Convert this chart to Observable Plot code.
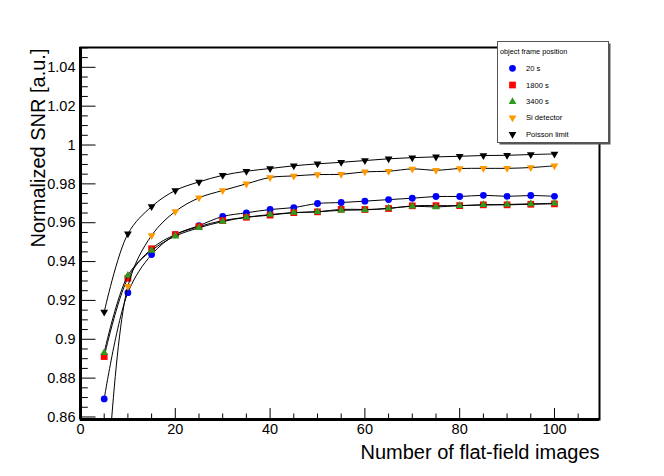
<!DOCTYPE html>
<html>
<head>
<meta charset="utf-8">
<script src="https://cdn.jsdelivr.net/npm/d3@7"></script>
<script src="https://cdn.jsdelivr.net/npm/@observablehq/plot@0.6"></script>
<style>
  html, body { margin: 0; padding: 0; background: #fff; }
  #chart { width: 664px; height: 476px; }
</style>
</head>
<body>
<div id="chart"></div>
<script>
// ---- data ----
const nImages = [5, 10, 15, 20, 25, 30, 35, 40, 45, 50, 55, 60, 65, 70, 75, 80, 85, 90, 95, 100];
const snr20s = [0.8693, 0.9240, 0.9436, 0.9538, 0.9585, 0.9632, 0.9651, 0.9668, 0.9678, 0.9699, 0.9704, 0.9711, 0.9719, 0.9726, 0.9735, 0.9735, 0.9741, 0.9736, 0.9740, 0.9736];
const snr1800s = [0.8911, 0.9314, 0.9466, 0.9539, 0.9580, 0.9611, 0.9628, 0.9639, 0.9652, 0.9656, 0.9669, 0.9668, 0.9673, 0.9687, 0.9688, 0.9688, 0.9692, 0.9692, 0.9695, 0.9697];
const snr3400s = [0.8931, 0.9328, 0.9457, 0.9531, 0.9574, 0.9606, 0.9628, 0.9642, 0.9652, 0.9656, 0.9664, 0.9666, 0.9674, 0.9685, 0.9681, 0.9688, 0.9692, 0.9694, 0.9697, 0.9700];
const snrSi = [0.800, 0.9273, 0.9534, 0.9658, 0.9728, 0.9766, 0.9800, 0.9833, 0.9841, 0.9848, 0.9849, 0.9862, 0.9865, 0.9877, 0.9870, 0.9879, 0.9880, 0.9880, 0.9884, 0.9893];
const snrPoisson = [0.9140, 0.9543, 0.9683, 0.9766, 0.9810, 0.9844, 0.9865, 0.9879, 0.9893, 0.9903, 0.9911, 0.9920, 0.9929, 0.9935, 0.9939, 0.9942, 0.9946, 0.9947, 0.9951, 0.9954];
const seriesNames = ["20 s", "1800 s", "3400 s", "Si detector", "Poisson limit"];
const seriesValues = [snr20s, snr1800s, snr3400s, snrSi, snrPoisson];
const seriesColors = ["#0000ff", "#ff0000", "#2e9a1e", "#ff9900", "#000000"];
const seriesSymbols = ["circle", "square", "triangle", "triangle", "triangle"];
const seriesRotate = [0, 0, 0, 180, 180];
const seriesR = [3.4, 3.8, 2.9, 2.9, 2.9];
const legendTitle = "object frame position";
const xTitle = "Number of flat-field images";
const yTitle = "Normalized SNR [a.u.]";
const yMajor = [0.86, 0.88, 0.90, 0.92, 0.94, 0.96, 0.98, 1.00, 1.02, 1.04];
const yMinor = [0.865, 0.87, 0.875, 0.885, 0.89, 0.895, 0.905, 0.91, 0.915, 0.925, 0.93, 0.935,
  0.945, 0.95, 0.955, 0.965, 0.97, 0.975, 0.985, 0.99, 0.995, 1.005, 1.01, 1.015, 1.025, 1.03, 1.035, 1.045, 1.05];
const xMajor = [0, 20, 40, 60, 80, 100];
const xMinor = [5, 10, 15, 25, 30, 35, 45, 50, 55, 65, 70, 75, 85, 90, 95, 105];

// ---- layout ----
const W = 664, H = 476;
const mL = 80, mR = 65, mT = 47, mB = 57;
const fw = W - mL - mR, fh = H - mT - mB;
const font = "'Liberation Sans', Arial, Helvetica, sans-serif";

const rows = [];
seriesNames.forEach((s, i) => nImages.forEach((x, j) => rows.push({series: s, idx: i, x, y: seriesValues[i][j]})));

const marks = [
  Plot.frame({stroke: "black", strokeWidth: 2}),
  Plot.tickY(yMajor, {y: d => d, insetRight: fw - 15.5, stroke: "black", strokeWidth: 1}),
  Plot.tickY(yMinor, {y: d => d, insetRight: fw - 7.8, stroke: "black", strokeWidth: 1}),
  Plot.tickX(xMajor, {x: d => d, insetTop: fh - 11, stroke: "black", strokeWidth: 1}),
  Plot.tickX(xMinor, {x: d => d, insetTop: fh - 5.5, stroke: "black", strokeWidth: 1}),
  Plot.axisY({ticks: yMajor, tickSize: 0, tickPadding: 5, fontSize: 14.5, label: null,
    tickFormat: d => String(+d.toFixed(2))}),
  Plot.axisX({ticks: xMajor, tickSize: 0, tickPadding: 4, fontSize: 14.5, label: null}),
  Plot.text([yTitle], {frameAnchor: "top-left", rotate: -90, textAnchor: "end", dx: -50, dy: 1, fontSize: 20, fill: "black"}),
  Plot.text([xTitle], {frameAnchor: "bottom-right", textAnchor: "end", dy: 39, fontSize: 20, fill: "black"})
];
seriesNames.forEach((s, i) => {
  const data = rows.filter(d => d.idx === i);
  marks.push(Plot.line(data, {x: "x", y: "y", curve: "catmull-rom", stroke: "black", strokeWidth: 1, clip: true}));
  marks.push(Plot.dot(data, {x: "x", y: "y", symbol: seriesSymbols[i], rotate: seriesRotate[i], r: seriesR[i],
    fill: seriesColors[i], stroke: "none", clip: true}));
});
marks.push(Plot.ruleX([0], {stroke: "black", strokeWidth: 3}));
marks.push(Plot.ruleY([0.8587], {stroke: "black", strokeWidth: 3}));

const plot = Plot.plot({
  width: W, height: H,
  marginLeft: mL, marginRight: mR, marginTop: mT, marginBottom: mB,
  style: {fontFamily: font, background: "white", color: "black", overflow: "visible"},
  x: {domain: [0, 109.5]},
  y: {domain: [0.8587, 1.0502]},
  marks
});
document.getElementById("chart").appendChild(plot);

// ---- legend (ROOT TLegend style) ----
const svg = d3.select(plot);
const lg = svg.append("g").attr("font-family", font).attr("text-anchor", "start");
const lx = 497.5, ly = 41.5, lw = 111, lh = 101;
lg.append("rect").attr("x", lx + 2).attr("y", ly + 2).attr("width", lw).attr("height", lh).attr("fill", "#555");
lg.append("rect").attr("x", lx).attr("y", ly).attr("width", lw).attr("height", lh).attr("fill", "white").attr("stroke", "#555").attr("stroke-width", 1);
lg.append("text").attr("x", lx + 2.5).attr("y", ly + 12).attr("font-size", 7.3).attr("fill", "black").attr("text-anchor", "start").text(legendTitle);
const rowY = [68.3, 85, 101.7, 117.7, 134.3];
seriesNames.forEach((s, i) => {
  const sym = {circle: d3.symbolCircle, square: d3.symbolSquare, triangle: d3.symbolTriangle}[seriesSymbols[i]];
  const r = seriesR[i];
  lg.append("path")
    .attr("d", d3.symbol(sym, Math.PI * r * r)())
    .attr("transform", `translate(${lx + 15},${rowY[i]}) rotate(${seriesRotate[i]})`)
    .attr("fill", seriesColors[i]);
  lg.append("text").attr("x", lx + 28.5).attr("y", rowY[i] + 2.7).attr("font-size", 7.6)
    .attr("fill", "black").attr("text-anchor", "start").text(s);
});
</script>
</body>
</html>
